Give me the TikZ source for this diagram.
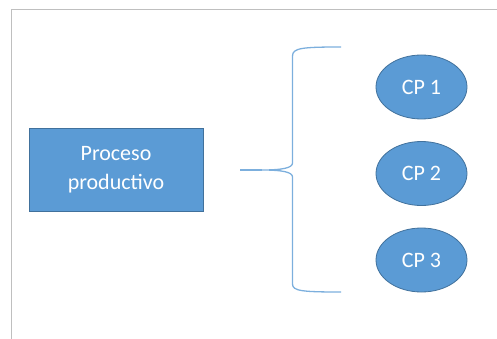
\documentclass[tikz,border=0pt]{standalone}
\usepackage{fontspec}
\setmainfont{Carlito}
\usetikzlibrary{shapes.geometric}

\definecolor{boxblue}{RGB}{91,155,213}
\definecolor{edgeblue}{RGB}{65,113,156}
\definecolor{framegray}{RGB}{191,191,191}

\begin{document}
\begin{tikzpicture}[
    x=1pt, y=-1pt,
    proc/.style={rectangle, draw=edgeblue, line width=0.8pt, fill=boxblue, text=white,
        minimum width=174pt, minimum height=83pt, align=center,
        font=\fontsize{22}{28.5}\selectfont},
    cp/.style={ellipse, draw=edgeblue, line width=0.8pt, fill=boxblue, text=white,
        minimum width=91pt, minimum height=64pt, inner sep=0pt,
        font=\fontsize{22}{26}\selectfont},
    brace/.style={draw=boxblue!80, line width=1.3pt},
]

\useasboundingbox (0,0) rectangle (497,339);

% Frame
\draw[framegray, line width=1pt] (11.5,339) -- (11.5,9.5) -- (497,9.5);

% Process box
\node[proc] (proc) at (116,169.5) {Proceso\\productivo};

% Control points
\node[cp] (cp1) at (421.5,87) {CP 1};
\node[cp] (cp2) at (421.5,173.5) {CP 2};
\node[cp] (cp3) at (421.5,260) {CP 3};

% Brace
\coordinate (tip) at (240,170);
\coordinate (mid) at (262,170);
\coordinate (top) at (341,47);
\coordinate (bot) at (341,292);
\draw[brace] (top) .. controls (302,47) and (292.5,48) .. (292.5,56)
    -- (292.5,163) .. controls (292.5,168) and (282,170) .. (mid)
    .. controls (282,170) and (292.5,172) .. (292.5,177)
    -- (292.5,284) .. controls (292.5,291) and (302,292) .. (bot);
\draw[brace] (mid) -- (tip);

\end{tikzpicture}
\end{document}
